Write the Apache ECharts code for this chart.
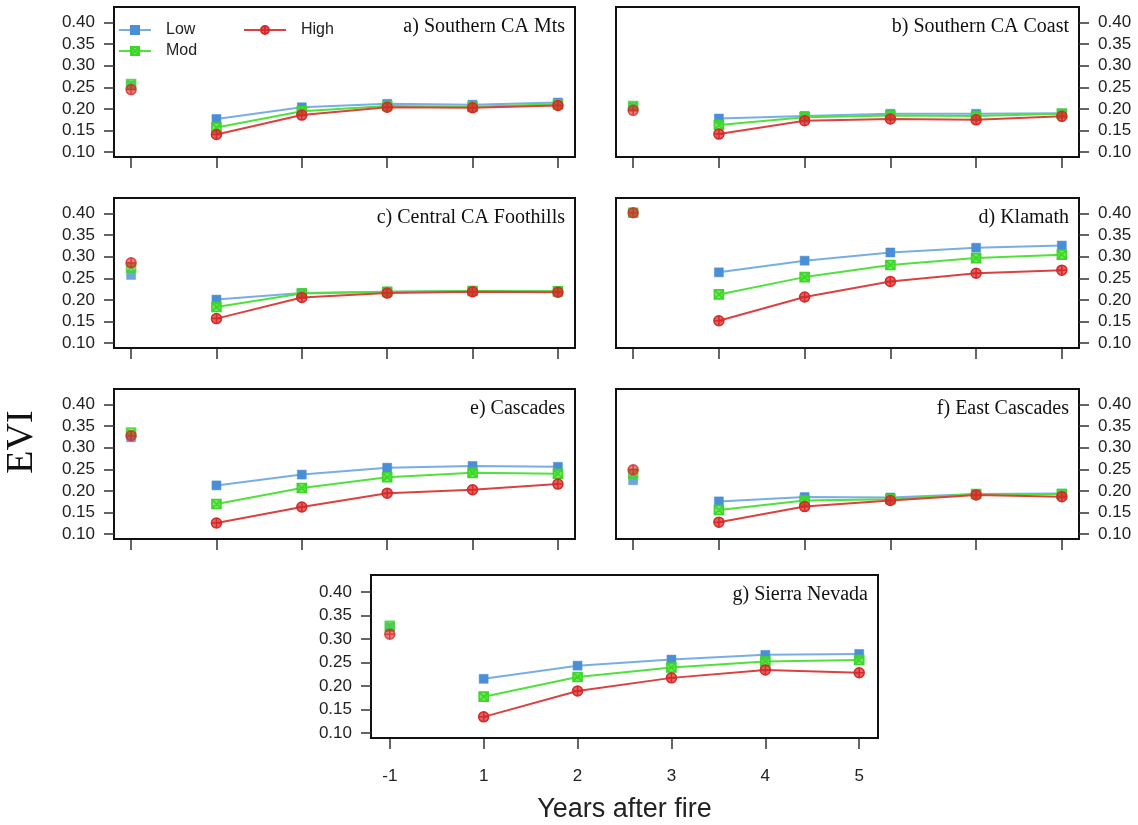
<!DOCTYPE html>
<html>
<head>
<meta charset="utf-8">
<script src="https://cdn.jsdelivr.net/npm/echarts@6/dist/echarts.min.js"></script>
<style>
html,body{margin:0;padding:0;background:#fff;}
#chart{width:1138px;height:825px;}
</style>
</head>
<body>
<div id="chart"></div>
<script>
// ---------- data ----------
const yearLabels = ['-1', '1', '2', '3', '4', '5'];
const eviTicks = [0.10, 0.15, 0.20, 0.25, 0.30, 0.35, 0.40];
const severityNames = ['Low', 'Mod', 'High'];
const panelTitles = ['a) Southern CA Mts', 'b) Southern CA Coast', 'c) Central CA Foothills',
  'd) Klamath', 'e) Cascades', 'f) East Cascades', 'g) Sierra Nevada'];

const mtsLow  = [0.255, 0.177, 0.204, 0.212, 0.210, 0.215];
const mtsMod  = [0.258, 0.157, 0.195, 0.207, 0.205, 0.211];
const mtsHigh = [0.245, 0.141, 0.186, 0.204, 0.203, 0.208];

const coastLow  = [0.205, 0.178, 0.184, 0.189, 0.189, 0.190];
const coastMod  = [0.207, 0.163, 0.181, 0.185, 0.184, 0.189];
const coastHigh = [0.197, 0.142, 0.173, 0.177, 0.175, 0.183];

const foothillsLow  = [0.258, 0.201, 0.216, 0.219, 0.221, 0.220];
const foothillsMod  = [0.275, 0.184, 0.215, 0.219, 0.221, 0.220];
const foothillsHigh = [0.286, 0.157, 0.206, 0.216, 0.219, 0.218];

const klamathLow  = [0.402, 0.264, 0.291, 0.310, 0.321, 0.326];
const klamathMod  = [0.402, 0.213, 0.253, 0.281, 0.297, 0.305];
const klamathHigh = [0.402, 0.152, 0.207, 0.243, 0.262, 0.269];

const cascadesLow  = [0.324, 0.213, 0.238, 0.254, 0.258, 0.256];
const cascadesMod  = [0.335, 0.170, 0.207, 0.232, 0.242, 0.240];
const cascadesHigh = [0.328, 0.126, 0.163, 0.195, 0.203, 0.216];

const eastCascLow  = [0.225, 0.176, 0.186, 0.185, 0.193, 0.194];
const eastCascMod  = [0.240, 0.156, 0.178, 0.181, 0.193, 0.193];
const eastCascHigh = [0.249, 0.128, 0.164, 0.178, 0.191, 0.187];

const sierraLow  = [0.325, 0.215, 0.243, 0.256, 0.266, 0.268];
const sierraMod  = [0.328, 0.177, 0.219, 0.239, 0.252, 0.255];
const sierraHigh = [0.310, 0.134, 0.189, 0.217, 0.234, 0.228];

const panelData = [
  [mtsLow, mtsMod, mtsHigh],
  [coastLow, coastMod, coastHigh],
  [foothillsLow, foothillsMod, foothillsHigh],
  [klamathLow, klamathMod, klamathHigh],
  [cascadesLow, cascadesMod, cascadesHigh],
  [eastCascLow, eastCascMod, eastCascHigh],
  [sierraLow, sierraMod, sierraHigh]
];

// ---------- layout / style ----------
const boxes = [
  {left: 114, top: 7,   width: 461, height: 150, side: 'left'},
  {left: 616, top: 7,   width: 463, height: 150, side: 'right'},
  {left: 114, top: 198, width: 461, height: 150, side: 'left'},
  {left: 616, top: 198, width: 463, height: 150, side: 'right'},
  {left: 114, top: 389, width: 461, height: 150, side: 'left'},
  {left: 616, top: 389, width: 463, height: 150, side: 'right'},
  {left: 371, top: 575, width: 507, height: 163, side: 'left', xlabels: true}
];

const SANS = '"Liberation Sans", Arial, Helvetica, sans-serif';
const SERIF = '"Liberation Serif", "Times New Roman", serif';

const styles = {
  Low: {
    symbol: 'rect', symbolSize: 9,
    itemStyle: {color: '#4a8fd6', borderColor: '#4a8fd6', borderWidth: 0.5},
    line: '#78aee3'
  },
  Mod: {
    symbol: 'path://M0,0L10,0L10,10L0,10Z M0,0L10,10 M10,0L0,10', symbolSize: 9,
    itemStyle: {color: 'rgba(70,225,45,0.75)', borderColor: '#3cd628', borderWidth: 1.6},
    line: '#4fe23a'
  },
  High: {
    symbol: 'path://M10,5A5,5,0,1,1,0,5A5,5,0,1,1,10,5Z M5,0L5,10 M0,5L10,5', symbolSize: 10,
    itemStyle: {color: 'rgba(220,45,45,0.75)', borderColor: '#d42a2a', borderWidth: 1.5},
    line: '#dd4040'
  }
};

const grids = [], xAxes = [], yAxes = [], series = [], titles = [];

boxes.forEach((b, i) => {
  grids.push({left: b.left, top: b.top, width: b.width, height: b.height,
    show: true, borderColor: '#111', borderWidth: 2, backgroundColor: 'transparent'});
  xAxes.push({
    type: 'value', gridIndex: i, min: -0.2, max: 5.2, offset: 1, position: 'bottom',
    axisLine: {show: false, onZero: false},
    axisTick: {show: true, length: 10, customValues: [0, 1, 2, 3, 4, 5],
      lineStyle: {color: '#333', width: 1.5}},
    axisLabel: {show: !!b.xlabels, customValues: [0, 1, 2, 3, 4, 5],
      formatter: v => yearLabels[Math.round(v)], margin: 29,
      fontFamily: SANS, fontSize: 17, color: '#222'},
    splitLine: {show: false},
    name: b.xlabels ? 'Years after fire' : '',
    nameLocation: 'middle', nameGap: 57,
    nameTextStyle: {fontFamily: SANS, fontSize: 27, color: '#222'}
  });
  yAxes.push({
    type: 'value', gridIndex: i, min: 0.089, max: 0.436, position: b.side,
    axisLine: {show: false, onZero: false},
    axisTick: {show: true, length: 10, customValues: eviTicks,
      lineStyle: {color: '#333', width: 1.5}},
    axisLabel: {show: true, customValues: eviTicks, margin: 19,
      formatter: v => v.toFixed(2), fontFamily: SANS, fontSize: 17, color: '#222'},
    splitLine: {show: false}
  });
  titles.push({
    text: panelTitles[i],
    right: 1138 - (b.left + b.width - 10),
    top: b.top + 10, padding: 0,
    textStyle: {fontFamily: SERIF, fontSize: 20, fontWeight: 'normal', color: '#111'}
  });
  const sets = panelData[i];
  severityNames.forEach((name, k) => {
    const st = styles[name];
    const vals = sets[k];
    series.push({
      name: name, type: 'line', xAxisIndex: i, yAxisIndex: i,
      data: vals.slice(1).map((v, j) => [j + 1, v]),
      symbol: st.symbol, symbolSize: st.symbolSize, showAllSymbol: true,
      itemStyle: st.itemStyle,
      lineStyle: {color: st.line, width: 2},
      z: 2 + k, animation: false, silent: true
    });
  });
  severityNames.forEach((name, k) => {
    const st = styles[name];
    const vals = sets[k];
    series.push({
      name: name, type: 'scatter', xAxisIndex: i, yAxisIndex: i,
      data: [[0, vals[0]]],
      symbol: st.symbol, symbolSize: st.symbolSize,
      itemStyle: st.itemStyle,
      z: 2 + k, animation: false, silent: true
    });
  });
});

const legendText = {fontFamily: SANS, fontSize: 16, color: '#222', lineHeight: 16, padding: [0, 0, 0, 10]};

const option = {
  backgroundColor: '#fff',
  animation: false,
  title: titles,
  grid: grids,
  xAxis: xAxes,
  yAxis: yAxes,
  series: series,
  legend: [
    {data: ['Low', 'Mod'], orient: 'vertical', left: 118, top: 22, padding: 0,
      itemWidth: 32, itemHeight: 10, itemGap: 5, textStyle: legendText, selectedMode: false},
    {data: ['High'], orient: 'vertical', left: 243, top: 22, padding: 0,
      itemWidth: 42, itemHeight: 10, itemGap: 5, textStyle: legendText, selectedMode: false}
  ],
  graphic: [{
    type: 'text', x: 22, y: 442, rotation: Math.PI / 2,
    style: {text: 'EVI', font: '38px "Liberation Serif", serif', fill: '#111',
      textAlign: 'center', textVerticalAlign: 'middle'}
  }]
};

const chart = echarts.init(document.getElementById('chart'), null, {renderer: 'canvas'});
chart.setOption(option);
</script>
</body>
</html>
